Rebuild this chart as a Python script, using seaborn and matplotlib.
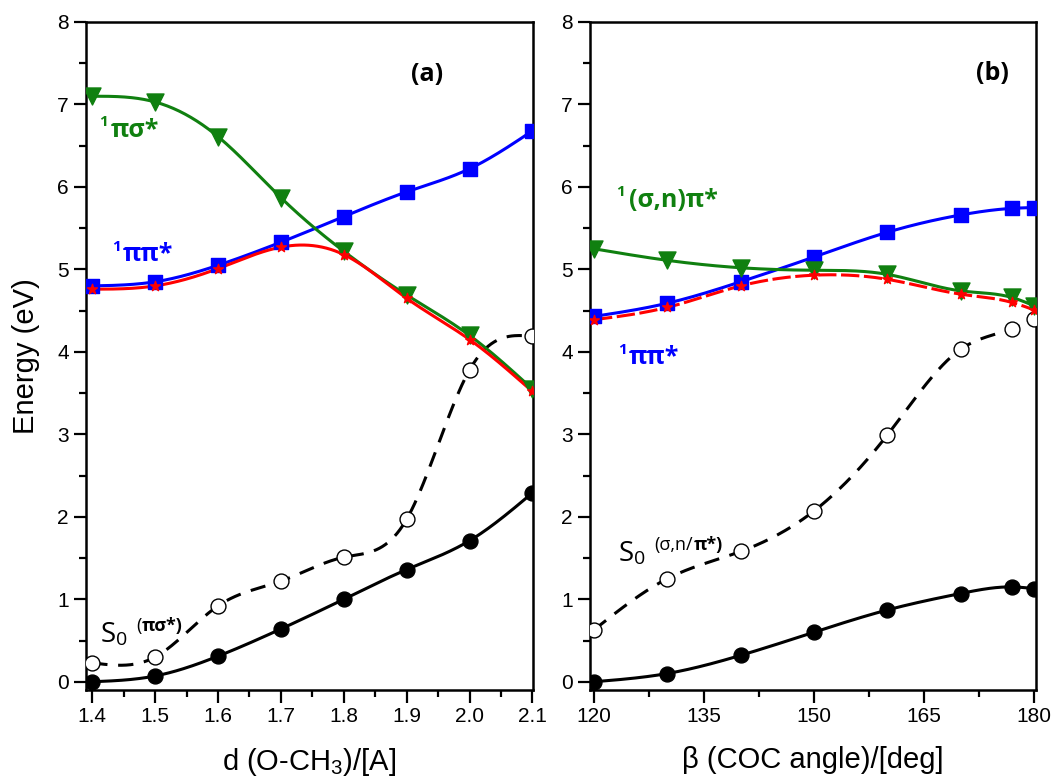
import numpy as np
import pandas as pd
import matplotlib
matplotlib.use("Agg")
import matplotlib.pyplot as plt
import seaborn as sns

# panel (a): O-CH3 distance scan
d_a = [1.4, 1.5, 1.6, 1.7, 1.8, 1.9, 2.0, 2.1]
s0_a = [0.00, 0.07, 0.31, 0.64, 1.00, 1.36, 1.71, 2.29]
s0x_a = [0.23, 0.30, 0.92, 1.22, 1.51, 1.97, 3.78, 4.19]
pipi_a = [4.80, 4.85, 5.05, 5.33, 5.64, 5.94, 6.22, 6.68]
pisig_a = [7.10, 7.03, 6.61, 5.87, 5.22, 4.69, 4.20, 3.55]
low_a = [4.76, 4.80, 5.01, 5.27, 5.18, 4.65, 4.15, 3.52]

# panel (b): COC angle scan
ang_b = [120, 130, 140, 150, 160, 170, 177, 180]
s0_b = [0.00, 0.10, 0.32, 0.60, 0.87, 1.07, 1.15, 1.13]
s0x_b = [0.63, 1.25, 1.58, 2.07, 2.99, 4.03, 4.28, 4.40]
pipi_b = [4.43, 4.59, 4.85, 5.15, 5.45, 5.66, 5.74, 5.75]
sign_b = [5.25, 5.11, 5.02, 4.99, 4.94, 4.74, 4.66, 4.56]
low_b = [4.39, 4.54, 4.80, 4.93, 4.88, 4.70, 4.60, 4.51]

GREEN = "#108010"
BLUE = "#0000FF"
RED = "#FF0000"


def spline(x, y, n=300):
    # natural cubic spline, only used to draw the smooth connecting line
    x = np.asarray(x, float)
    y = np.asarray(y, float)
    h = np.diff(x)
    m = len(x)
    A = np.zeros((m, m))
    r = np.zeros(m)
    A[0, 0] = A[-1, -1] = 1
    for i in range(1, m - 1):
        A[i, i - 1] = h[i - 1]
        A[i, i] = 2 * (h[i - 1] + h[i])
        A[i, i + 1] = h[i]
        r[i] = 6 * ((y[i + 1] - y[i]) / h[i] - (y[i] - y[i - 1]) / h[i - 1])
    M = np.linalg.solve(A, r)
    xs = np.linspace(x[0], x[-1], n)
    k = np.clip(np.searchsorted(x, xs) - 1, 0, m - 2)
    t1 = x[k + 1] - xs
    t2 = xs - x[k]
    ys = (M[k] * t1 ** 3 + M[k + 1] * t2 ** 3) / (6 * h[k]) \
        + (y[k] / h[k] - M[k] * h[k] / 6) * t1 \
        + (y[k + 1] / h[k] - M[k + 1] * h[k] / 6) * t2
    return xs, ys


sns.set_style("ticks")
plt.rcParams['font.family'] = ['Liberation Sans', 'DejaVu Sans']
plt.rcParams['mathtext.default'] = 'regular'
plt.rcParams['axes.linewidth'] = 1.8
for key in ('text.color', 'axes.labelcolor', 'xtick.color', 'ytick.color', 'axes.edgecolor'):
    plt.rcParams[key] = 'black'

fig = plt.figure(figsize=(10.55, 7.84), dpi=100)
ax_a = fig.add_axes([86 / 1055, 1 - 690 / 784, 447 / 1055, 668 / 784])
ax_b = fig.add_axes([590 / 1055, 1 - 690 / 784, 446 / 1055, 668 / 784])


def draw(ax, x, series):
    for y, color, marker, ms, ls, mfc in series:
        xs, ys = spline(x, y)
        sns.lineplot(x=xs, y=ys, ax=ax, color=color, lw=2.2, linestyle=ls, sort=False, estimator=None)
        sns.scatterplot(x=x, y=y, ax=ax, color=mfc, marker=marker, s=ms,
                        edgecolor=color, linewidth=1.0, zorder=5)


draw(ax_a, d_a, [
    (s0x_a, "black", "o", 115, (0, (5, 3.5)), "white"),
    (s0_a, "black", "o", 115, "-", "black"),
    (pipi_a, BLUE, "s", 115, "-", BLUE),
    (pisig_a, GREEN, "v", 150, "-", GREEN),
    (low_a, RED, "*", 55, "-", RED),
])
draw(ax_b, ang_b, [
    (s0x_b, "black", "o", 115, (0, (5, 3.5)), "white"),
    (s0_b, "black", "o", 115, "-", "black"),
    (pipi_b, BLUE, "s", 115, "-", BLUE),
    (sign_b, GREEN, "v", 150, "-", GREEN),
    (low_b, RED, "*", 55, (0, (6, 1.5)), RED),
])

ax_a.set_xlim(1.39, 2.101)
ax_b.set_xlim(119.45, 180.3)
for ax in (ax_a, ax_b):
    ax.set_ylim(-0.1, 8.0)
    ax.set_yticks(range(0, 9))
    ax.set_yticks(np.arange(0, 8.01, 0.5), minor=True)
    ax.tick_params(which='major', direction='out', length=9, width=1.6,
                   labelsize=15, top=False, right=False)
    ax.tick_params(which='minor', direction='out', length=5, width=1.6,
                   top=False, right=False)
    for sp in ax.spines.values():
        sp.set_visible(True)
        sp.set_color("black")

ax_a.set_xticks(np.round(np.arange(1.4, 2.11, 0.1), 2))
ax_a.set_xticklabels([f"{v:.1f}" for v in np.arange(1.4, 2.11, 0.1)])
ax_a.set_xticks(np.arange(1.4, 2.11, 0.05), minor=True)
ax_b.set_xticks([120, 135, 150, 165, 180])
ax_b.set_xticks(np.arange(120, 180.1, 7.5), minor=True)

ax_a.set_ylabel("Energy (eV)", fontsize=21, labelpad=12)
ax_a.set_xlabel("d (O-CH$_3$)/[A]", fontsize=21, labelpad=14)
ax_b.set_xlabel("β (COC angle)/[deg]", fontsize=21, labelpad=14)

TF = ['Open Sans', 'DejaVu Sans']


def label(ax, x, y, body, color):
    t = ax.text(x, y, body, color=color, fontsize=18, fontweight='bold',
                family=TF, va='baseline', ha='left')
    ax.annotate("1", xy=(-0.05, 0.82), xycoords=t, color=color, fontsize=11,
                fontweight='bold', family=TF, va='center', ha='right')


def s0_label(ax, x, y, sup, sup_bold):
    t1 = ax.text(x, y, "S", fontsize=20, family=TF, va='baseline', ha='left')
    t2 = ax.annotate("0", xy=(1.02, 0.0), xycoords=t1, fontsize=14, family=TF,
                     va='bottom', ha='left')
    t3 = ax.annotate(sup, xy=(1.8, 1.3), xycoords=t2, fontsize=13, family=TF,
                     va='center', ha='left')
    ax.annotate(sup_bold, xy=(1.0, 0.5), xycoords=t3, fontsize=13, family=TF,
                fontweight='bold', va='center', ha='left')


ax_a.text(1.933, 7.36, "(a)", fontsize=18, fontweight='bold', family=TF,
          ha='center', va='center')
ax_b.text(174.4, 7.38, "(b)", fontsize=18, fontweight='bold', family=TF,
          ha='center', va='center')

label(ax_a, 1.4287, 6.61, "πσ*", GREEN)
label(ax_a, 1.449, 5.10, "ππ*", BLUE)
label(ax_b, 124.8, 5.76, "(σ,n)π*", GREEN)
label(ax_b, 124.8, 3.85, "ππ*", BLUE)

s0_label(ax_a, 1.4127, 0.48, "(", "πσ*)")
s0_label(ax_b, 123.4, 1.46, "(σ,n/", "π*)")

fig.savefig("out.png", dpi=100)
